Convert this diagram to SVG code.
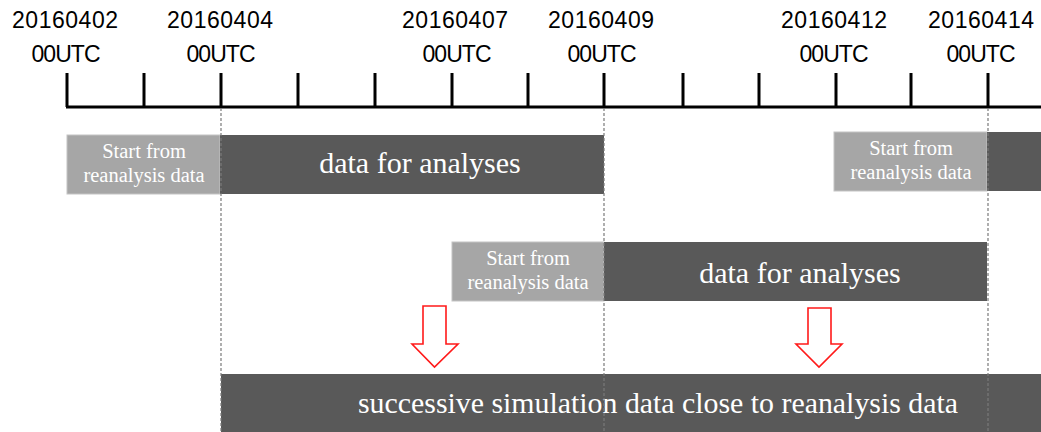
<svg xmlns="http://www.w3.org/2000/svg" width="1041" height="432" viewBox="0 0 1041 432">
  <style>
    .date { font-family: "Liberation Sans", Arial, sans-serif; font-size: 23px; fill: #000; text-anchor: middle; }
    .tick { stroke: #000; stroke-width: 3; fill: none; }
    .start { fill: #a6a6a6; stroke: #c4c4c4; stroke-width: 1; }
    .data { fill: #595959; }
    .small { font-family: "Liberation Serif", "Times New Roman", serif; font-size: 20.5px; fill: #fff; text-anchor: middle; }
    .big { font-family: "Liberation Serif", "Times New Roman", serif; font-size: 30px; fill: #fff; text-anchor: middle; }
    .guide { stroke: #7a7a7a; stroke-width: 1.2; stroke-dasharray: 3 2; fill: none; }
    .arrow { fill: #fff; stroke: #ff1a1a; stroke-width: 1.6; stroke-linejoin: miter; }
  </style>

  <!-- time axis -->
  <g id="axis">
    <line class="tick" x1="66" y1="107" x2="1041" y2="107"/>
    <path class="tick" d="M67,73V107 M144,73V107 M221,73V107 M298,73V107 M375,73V107 M452,73V107 M528,73V107 M604,73V107 M683,73V107 M759,73V107 M836,73V107 M911,73V107 M988,73V107"/>
  </g>

  <!-- date labels -->
  <g id="dates">
    <text class="date" x="65" y="28" textLength="106">20160402</text>
    <text class="date" x="66" y="62" textLength="69">00UTC</text>
    <text class="date" x="220" y="28" textLength="106">20160404</text>
    <text class="date" x="221" y="62" textLength="69">00UTC</text>
    <text class="date" x="455" y="28" textLength="106">20160407</text>
    <text class="date" x="457" y="62" textLength="69">00UTC</text>
    <text class="date" x="601" y="28" textLength="106">20160409</text>
    <text class="date" x="602" y="62" textLength="69">00UTC</text>
    <text class="date" x="834" y="28" textLength="106">20160412</text>
    <text class="date" x="834" y="62" textLength="69">00UTC</text>
    <text class="date" x="981" y="28" textLength="106">20160414</text>
    <text class="date" x="981" y="62" textLength="69">00UTC</text>
  </g>

  <!-- first cycle -->
  <g id="cycle1">
    <rect class="start" x="67" y="135" width="153" height="59"/>
    <text class="small" x="144" y="158">Start from</text>
    <text class="small" x="144" y="182">reanalysis data</text>
    <rect class="data" x="220" y="135" width="384" height="59"/>
    <text class="big" x="420" y="173">data for analyses</text>
  </g>

  <!-- third cycle (partially visible) -->
  <g id="cycle3">
    <rect class="start" x="834" y="132" width="153" height="59"/>
    <text class="small" x="911" y="155">Start from</text>
    <text class="small" x="911" y="179">reanalysis data</text>
    <rect class="data" x="987" y="132" width="54" height="59"/>
  </g>

  <!-- second cycle -->
  <g id="cycle2">
    <rect class="start" x="452" y="242" width="152" height="59"/>
    <text class="small" x="528" y="265">Start from</text>
    <text class="small" x="528" y="289">reanalysis data</text>
    <rect class="data" x="604" y="242" width="383" height="59"/>
    <text class="big" x="800" y="283">data for analyses</text>
  </g>

  <!-- merged result -->
  <g id="result">
    <rect class="data" x="221" y="374" width="820" height="58"/>
    <text class="big" x="658" y="413" font-size="28" textLength="600" lengthAdjust="spacingAndGlyphs">successive simulation data close to reanalysis data</text>
  </g>

  <!-- dashed cycle boundaries -->
  <g id="connectors">
    <line class="guide" x1="221" y1="108" x2="221" y2="432"/>
    <line class="guide" x1="604" y1="108" x2="604" y2="432"/>
    <line class="guide" x1="988" y1="108" x2="988" y2="432"/>
    <path id="arrow1" class="arrow" d="M423,306 H446 V344 H458 L434.5,367 L412,344 H423 Z"/>
    <path id="arrow2" class="arrow" d="M808,308 H831 V344 H842 L819,367 L796,344 H808 Z"/>
  </g>
</svg>
